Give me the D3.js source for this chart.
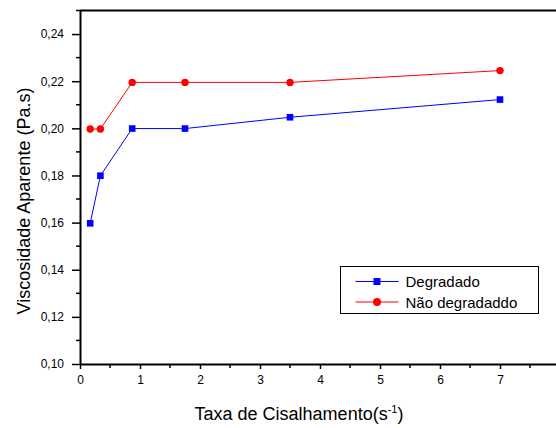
<!DOCTYPE html>
<html>
<head>
<meta charset="utf-8">
<script src="https://cdn.jsdelivr.net/npm/d3@7"></script>
<style>
  body { margin: 0; background: #fff; }
  svg { display: block; font-family: Arial, "Liberation Sans", sans-serif; }
</style>
</head>
<body>
<svg></svg>
<script>
// data
var shearRate = [0.17, 0.34, 0.87, 1.75, 3.5, 7.0];
var degradado = [0.1597, 0.1799, 0.1999, 0.1999, 0.2047, 0.2122];
var naoDegradado = [0.1997, 0.1997, 0.2195, 0.2195, 0.2195, 0.2245];
var seriesNames = ["Degradado", "Não degradaddo"];
var xTicks = [0, 1, 2, 3, 4, 5, 6, 7, 8];
var yTicks = [0.10, 0.12, 0.14, 0.16, 0.18, 0.20, 0.22, 0.24];

document.addEventListener("DOMContentLoaded", function() {

    var width = 556, height = 428;
    var left = 80, right = 560, top = 10.5, bottom = 364;

    var svg = d3.select("svg")
                .attr("width", width)
                .attr("height", height);

    var x = d3.scaleLinear().domain([0, 8]).range([left, right]);
    var y = d3.scaleLinear().domain([0.10, 0.25]).range([bottom, top]);

    var fmt = function(d) { return d3.format(".2f")(d).replace(".", ","); };

    // minor ticks (half steps)
    var xMinor = d3.range(0.5, 8, 1);
    var yMinor = d3.range(0.11, 0.25, 0.02);

    var xAxis = svg.append("g")
        .attr("transform", `translate(0,${bottom})`)
        .call(d3.axisBottom(x).tickValues(xTicks).tickFormat(d3.format("d"))
              .tickSize(5).tickPadding(6).tickSizeOuter(0));
    xAxis.append("g").selectAll("line").data(xMinor).enter().append("line")
        .attr("x1", d => x(d)).attr("x2", d => x(d))
        .attr("y1", 0).attr("y2", 4);

    var yAxis = svg.append("g")
        .attr("transform", `translate(${left},0)`)
        .call(d3.axisLeft(y).tickValues(yTicks).tickFormat(fmt)
              .tickSize(8).tickPadding(8).tickSizeOuter(0));
    yAxis.append("g").selectAll("line").data(yMinor).enter().append("line")
        .attr("x1", 0).attr("x2", -4)
        .attr("y1", d => y(d)).attr("y2", d => y(d));

    svg.selectAll(".domain").attr("stroke", "#000").attr("stroke-width", 2);
    svg.selectAll(".tick line").attr("stroke", "#000").attr("stroke-width", 1.5);
    xAxis.selectAll("g > line").attr("stroke", "#000").attr("stroke-width", 1.5);
    yAxis.selectAll("g > line").attr("stroke", "#000").attr("stroke-width", 1.5);
    svg.selectAll(".tick text")
        .attr("font-size", 12)
        .attr("font-family", "Arial, 'Liberation Sans', sans-serif")
        .attr("fill", "#000");

    // top frame
    svg.append("line")
        .attr("x1", left).attr("x2", right)
        .attr("y1", top).attr("y2", top)
        .attr("stroke", "#000").attr("stroke-width", 2);

    // axis titles
    var xt = svg.append("text")
        .attr("x", 299).attr("y", 420)
        .attr("text-anchor", "middle")
        .attr("font-size", 18)
        .attr("fill", "#000");
    xt.append("tspan").text("Taxa de Cisalhamento(s");
    xt.append("tspan").attr("dy", -7).attr("font-size", 11).text("-1");
    xt.append("tspan").attr("dy", 7).text(")");

    svg.append("text")
        .attr("transform", "translate(30,201) rotate(-90)")
        .attr("text-anchor", "middle")
        .attr("font-size", 18)
        .attr("fill", "#000")
        .text("Viscosidade Aparente (Pa.s)");

    var line = d3.line().x(d => x(d[0])).y(d => y(d[1]));
    var blue = d3.zip(shearRate, degradado);
    var red = d3.zip(shearRate, naoDegradado);

    svg.append("path").datum(red)
        .attr("d", line).attr("fill", "none")
        .attr("stroke", "#ff0000").attr("stroke-width", 1);
    svg.append("path").datum(blue)
        .attr("d", line).attr("fill", "none")
        .attr("stroke", "#0000ff").attr("stroke-width", 1);

    svg.selectAll("circle.red").data(red).enter().append("circle")
        .attr("class", "red")
        .attr("cx", d => x(d[0])).attr("cy", d => y(d[1]))
        .attr("r", 3.7).attr("fill", "#ff0000");

    svg.selectAll("rect.blue").data(blue).enter().append("rect")
        .attr("class", "blue")
        .attr("x", d => x(d[0]) - 3.3).attr("y", d => y(d[1]) - 3.3)
        .attr("width", 6.6).attr("height", 6.6).attr("fill", "#0000ff");

    // legend
    var lg = svg.append("g").attr("transform", "translate(340.5,266.5)");
    lg.append("rect").attr("width", 198).attr("height", 47)
        .attr("fill", "#fff").attr("stroke", "#000").attr("stroke-width", 1);

    var colors = ["#0000ff", "#ff0000"];
    seriesNames.forEach(function(name, i) {
        var yy = 15 + i * 20.5;
        lg.append("line").attr("x1", 15).attr("x2", 58)
            .attr("y1", yy).attr("y2", yy)
            .attr("stroke", colors[i]).attr("stroke-width", 1);
        if (i === 0) {
            lg.append("rect").attr("x", 36.5 - 3.5).attr("y", yy - 3.5)
                .attr("width", 7).attr("height", 7).attr("fill", colors[i]);
        } else {
            lg.append("circle").attr("cx", 36.5).attr("cy", yy)
                .attr("r", 4).attr("fill", colors[i]);
        }
        lg.append("text").attr("x", 65).attr("y", yy + 5.5)
            .attr("font-size", 15).attr("fill", "#000").text(name);
    });
});
</script>
</body>
</html>
